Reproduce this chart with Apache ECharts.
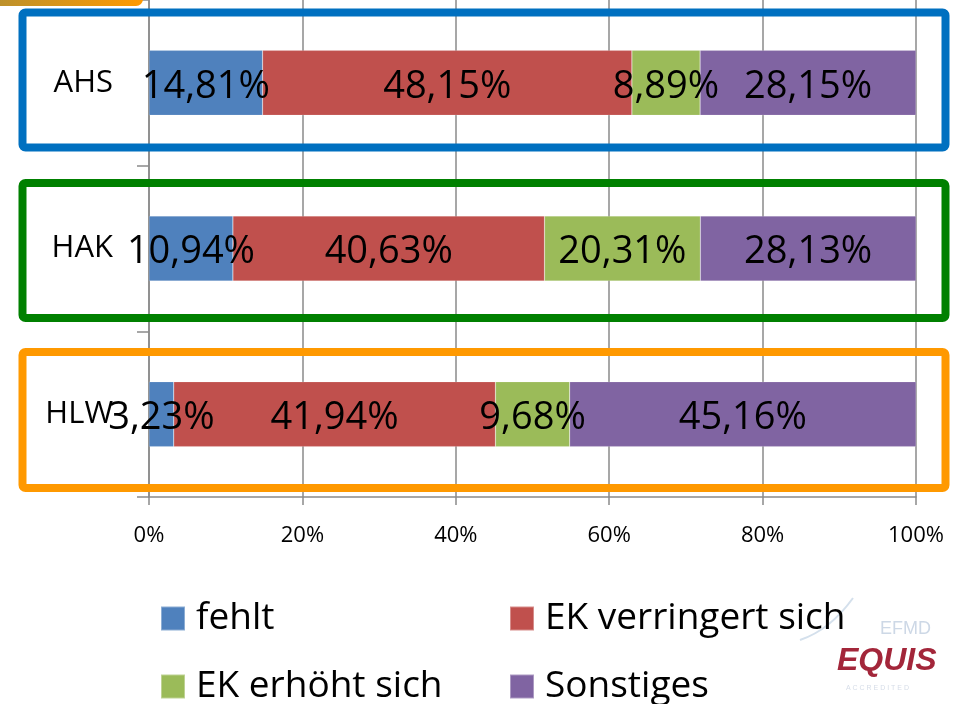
<!DOCTYPE html>
<html>
<head>
<meta charset="utf-8">
<script src="https://cdn.jsdelivr.net/npm/echarts@6/dist/echarts.min.js"></script>
<style>
  html, body { margin: 0; padding: 0; background: #fff; }
  #chart { width: 958px; height: 704px; }
</style>
</head>
<body>
<div id="chart"></div>
<script>
const categories = ['AHS', 'HAK', 'HLW']
const seriesNames = ['fehlt', 'EK verringert sich', 'EK erhöht sich', 'Sonstiges']
const fehlt = [14.81, 10.94, 3.23]
const ekVerringert = [48.15, 40.63, 41.94]
const ekErhoeht = [8.89, 20.31, 9.68]
const sonstiges = [28.15, 28.13, 45.16]
const xTicks = [0, 20, 40, 60, 80, 100]

const colors = ['#4F81BD', '#C0504D', '#9BBB59', '#8064A2']
const font = 'Open Sans'
const gray = '#8a8a8a'

const fmt = v => v.toFixed(2).replace('.', ',') + '%'

const chart = echarts.init(document.getElementById('chart'))

const makeSeries = (name, data, i) => ({
  name,
  type: 'bar',
  stack: 'total',
  data,
  barWidth: 65,
  itemStyle: {
    color: colors[i],
    borderColor: 'rgba(255,255,255,0.35)',
    borderWidth: 0.5
  },
  label: {
    show: true,
    position: 'inside',
    offset: [0, 4],
    formatter: p => fmt(p.value),
    color: '#000',
    fontFamily: font,
    fontSize: 38,
    textBorderWidth: 0
  },
  z: 3
})

// Rahmen um die Balken
const frame = (y, h, color) => ({
  type: 'rect',
  shape: { x: 22.5, y, width: 923, height: h, r: 3 },
  style: { fill: 'none', stroke: color, lineWidth: 8 },
  z: 1
})

// legende 2x2
const legendPos = [
  { left: 160, top: 600 },
  { left: 509, top: 600 },
  { left: 160, top: 668 },
  { left: 509, top: 668 }
]
const legends = seriesNames.map((n, i) => ({
  data: [n],
  left: legendPos[i].left,
  top: legendPos[i].top,
  padding: 0,
  icon: 'rect',
  itemWidth: 24,
  itemHeight: 24,
  selectedMode: false,
  textStyle: {
    fontFamily: font,
    fontSize: 37,
    lineHeight: 34,
    color: '#000',
    padding: [0, 0, 0, 6]
  }
}))

const option = {
  animation: false,
  backgroundColor: '#fff',
  grid: { left: 149, right: 42, top: 0, bottom: 207, containLabel: false },
  legend: legends,
  xAxis: {
    type: 'value',
    min: 0,
    max: 100,
    interval: 20,
    axisLabel: {
      formatter: v => (xTicks.includes(v) ? v + '%' : ''),
      fontFamily: font,
      fontSize: 22,
      color: '#000',
      margin: 28
    },
    axisLine: { show: true, lineStyle: { color: gray, width: 1.5 } },
    axisTick: { show: true, length: 8, lineStyle: { color: gray, width: 1.5 } },
    splitLine: { show: true, lineStyle: { color: gray, width: 1.5 } }
  },
  yAxis: {
    type: 'category',
    data: categories,
    inverse: true,
    axisLabel: {
      fontFamily: font,
      fontSize: 31,
      color: '#000',
      margin: 36,
      padding: [12, 0, 0, 0]
    },
    axisLine: { show: true, lineStyle: { color: gray, width: 1.5 } },
    axisTick: { show: true, length: 12, lineStyle: { color: gray, width: 1.5 } }
  },
  series: [
    makeSeries(seriesNames[0], fehlt, 0),
    makeSeries(seriesNames[1], ekVerringert, 1),
    makeSeries(seriesNames[2], ekErhoeht, 2),
    makeSeries(seriesNames[3], sonstiges, 3)
  ],
  graphic: [
    {
      type: 'rect',
      shape: { x: -10, y: -10, width: 153, height: 16, r: [0, 0, 7, 0] },
      style: {
        fill: new echarts.graphic.LinearGradient(0, 0, 1, 0, [
          { offset: 0, color: '#B8902E' },
          { offset: 1, color: '#FF9A00' }
        ])
      },
      z: 5
    },
    frame(12.5, 135, '#0070C0'),
    frame(183, 135, '#008000'),
    frame(352, 136, '#FF9900'),
    // EQUIS logo
    {
      type: 'bezierCurve',
      shape: { x1: 800, y1: 640, x2: 853, y2: 598, cpx1: 830, cpy1: 630 },
      style: { stroke: '#d4e0ec', lineWidth: 2, fill: 'none' },
      z: 0
    },
    {
      type: 'text',
      left: 880, top: 620,
      style: { text: 'EFMD', fontFamily: 'Liberation Sans', fontSize: 18, fill: '#cdd8e6' }
    },
    {
      type: 'text',
      left: 837, top: 645,
      style: {
        text: 'EQUIS', fontFamily: 'Liberation Sans', fontSize: 32,
        fontWeight: 'bold', fontStyle: 'italic', fill: '#A3263A'
      }
    },
    {
      type: 'text',
      left: 846, top: 685,
      style: { text: 'A C C R E D I T E D', fontFamily: 'Liberation Sans', fontSize: 7, fill: '#d6dde8' }
    }
  ]
}

chart.setOption(option)
</script>
</body>
</html>
